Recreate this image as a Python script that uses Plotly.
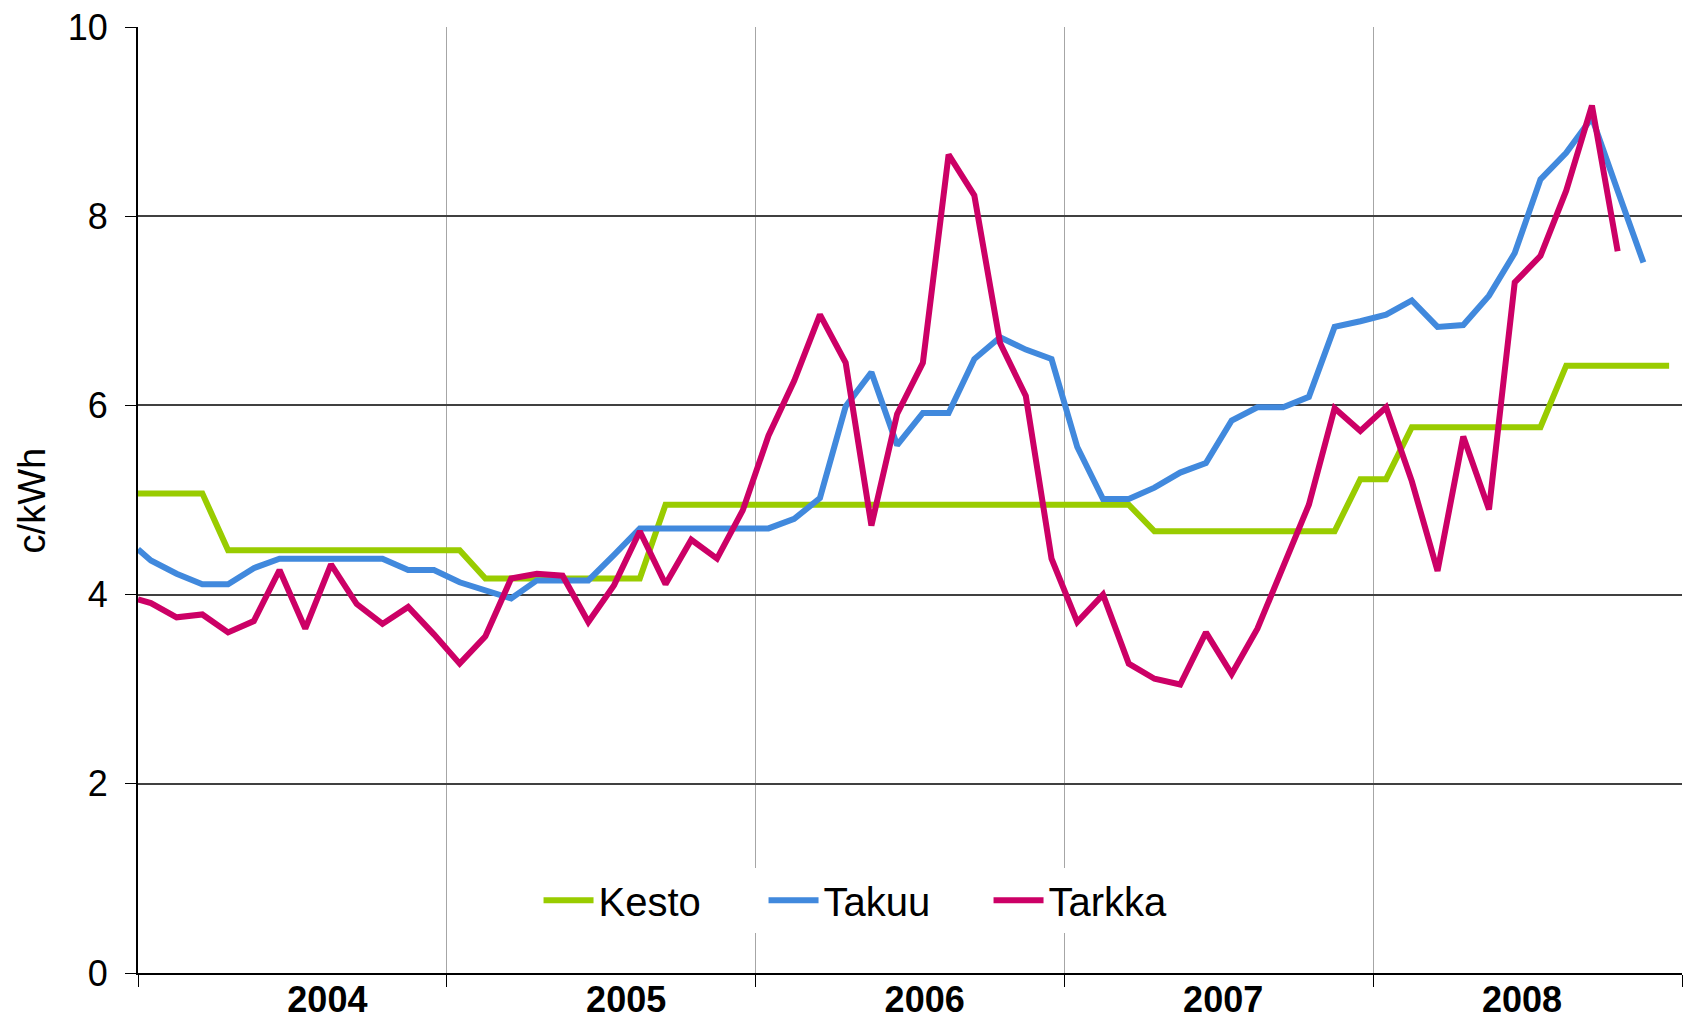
import plotly.graph_objects as go

# Month positions: first point at the start of Jan 2004, then monthly mid-points
years = ["2004", "2005", "2006", "2007", "2008"]
year_label_pos = [7.36, 18.97, 30.57, 42.17, 53.78]   # where the year labels sit (in months)
x_start = 0.0
n_months = 60
month_pos = [x_start] + [m + 0.5 for m in range(n_months)]

kesto = [5.07,
         5.07, 5.07, 5.07, 4.47, 4.47, 4.47, 4.47, 4.47, 4.47, 4.47, 4.47, 4.47,
         4.47, 4.17, 4.17, 4.17, 4.17, 4.17, 4.17, 4.17, 4.95, 4.95, 4.95, 4.95,
         4.95, 4.95, 4.95, 4.95, 4.95, 4.95, 4.95, 4.95, 4.95, 4.95, 4.95, 4.95,
         4.95, 4.95, 4.95, 4.67, 4.67, 4.67, 4.67, 4.67, 4.67, 4.67, 4.67, 5.22,
         5.22, 5.77, 5.77, 5.77, 5.77, 5.77, 5.77, 6.42, 6.42, 6.42, 6.42, 6.42]

takuu = [4.48,
         4.36, 4.22, 4.11, 4.11, 4.28, 4.38, 4.38, 4.38, 4.38, 4.38, 4.26, 4.26,
         4.13, 4.05, 3.96, 4.15, 4.15, 4.15, 4.42, 4.70, 4.70, 4.70, 4.70, 4.70,
         4.70, 4.80, 5.02, 5.99, 6.35, 5.58, 5.92, 5.92, 6.49, 6.72, 6.59, 6.49,
         5.56, 5.01, 5.01, 5.13, 5.29, 5.39, 5.84, 5.98, 5.98, 6.09, 6.83, 6.89,
         6.96, 7.11, 6.83, 6.85, 7.16, 7.61, 8.39, 8.67, 9.04, 8.27, 7.51, None]

tarkka = [3.95,
          3.91, 3.76, 3.79, 3.60, 3.72, 4.26, 3.64, 4.32, 3.90, 3.69, 3.87, 3.58,
          3.27, 3.56, 4.17, 4.22, 4.20, 3.71, 4.10, 4.67, 4.11, 4.58, 4.38, 4.89,
          5.68, 6.26, 6.96, 6.45, 4.73, 5.91, 6.45, 8.65, 8.22, 6.66, 6.10, 4.38,
          3.71, 4.00, 3.27, 3.11, 3.05, 3.60, 3.16, 3.64, 4.29, 4.95, 5.97, 5.73,
          5.98, 5.20, 4.25, 5.67, 4.90, 7.30, 7.58, 8.27, 9.17, 7.63, None, None]

series = [("Kesto", kesto, "#99CC00"),
          ("Takuu", takuu, "#4189DD"),
          ("Tarkka", tarkka, "#CC0066")]

FONT = "Liberation Sans, Arial, sans-serif"

fig = go.Figure()
for name, vals, col in series:
    fig.add_trace(go.Scatter(x=month_pos, y=vals, name=name, mode="lines",
                             line=dict(color=col, width=6), connectgaps=False,
                             hoverinfo="skip"))

fig.update_layout(
    width=1694, height=1021,
    margin=dict(l=138, r=12, t=27, b=48, autoexpand=False),
    plot_bgcolor="white", paper_bgcolor="white",
    font=dict(family=FONT, color="black"),
    showlegend=True,
    legend=dict(orientation="h", x=0.478, xanchor="center", y=0.077, yanchor="middle",
                bgcolor="white", font=dict(size=40, family=FONT, color="black"),
                itemwidth=50, entrywidth=160, traceorder="normal"),
)

fig.update_xaxes(
    range=[0, 60], tickmode="array", tickvals=year_label_pos, ticktext=years,
    ticks="", showgrid=False, zeroline=False, automargin=False,
    ticklabeloverflow="allow",
    tickfont=dict(size=36, family=FONT, weight="bold", color="black"),
    ticklabelstandoff=-6,
    showline=True, linecolor="black", linewidth=2,
    minor=dict(tickmode="linear", tick0=0, dtick=12, ticks="outside", ticklen=12,
               tickcolor="black", tickwidth=1, showgrid=True, gridcolor="#a6a6a6",
               gridwidth=1),
)

fig.update_yaxes(
    range=[0, 10], dtick=2, tick0=0, automargin=False,
    ticklabeloverflow="allow",
    ticks="outside", ticklen=11, tickcolor="black", tickwidth=1,
    tickfont=dict(size=36, family=FONT, color="black"),
    ticklabelstandoff=10,
    showgrid=True, gridcolor="#404040", gridwidth=1.5,
    zeroline=True, zerolinecolor="black", zerolinewidth=2,
    showline=True, linecolor="black", linewidth=2,
)

# y-axis title
fig.add_annotation(text="c/kWh", xref="paper", yref="paper", x=-0.0684, y=0.5,
                   xanchor="center", yanchor="middle", textangle=-90, showarrow=False,
                   font=dict(size=38, family=FONT, color="black"))

# remove the browser's default 8px body margin so the figure fills the window exactly
fig.write_html("out.html", config={"displayModeBar": False},
               post_script="document.body.style.margin='0';")
